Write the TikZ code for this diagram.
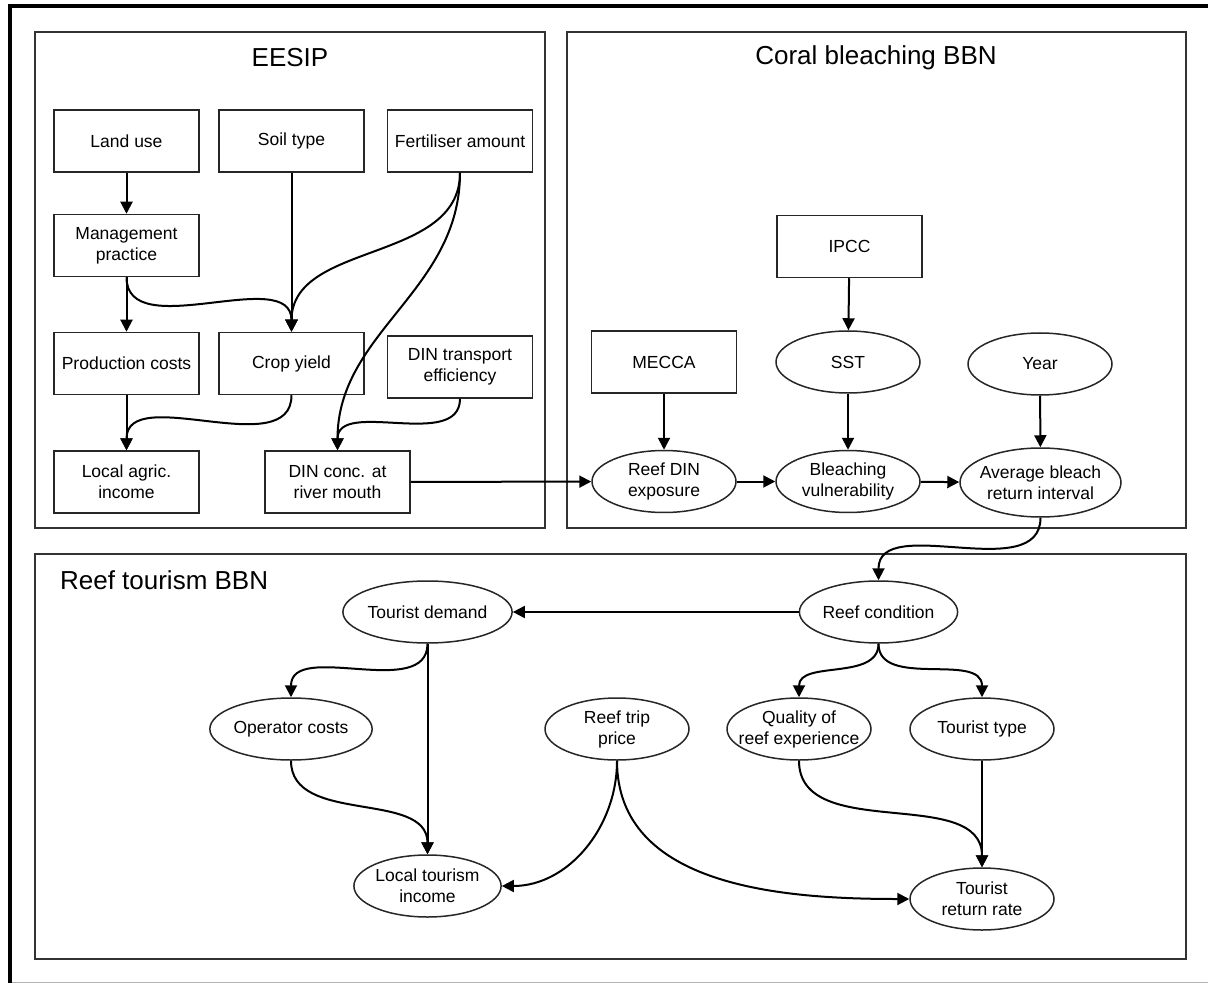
\documentclass[tikz,border=0pt]{standalone}
\usepackage{fontspec}
\setmainfont{Liberation Sans}
\usetikzlibrary{arrows.meta,shapes.geometric}

\begin{document}
\begin{tikzpicture}[x=0.5pt,y=-0.5pt,
  box/.style={draw=black!85,line width=0.75pt,minimum width=72.5pt,minimum height=31pt,inner sep=1pt,align=center,font=\fontsize{8.75}{10.5}\selectfont},
  oval/.style={ellipse,draw=black!85,line width=0.75pt,minimum width=72pt,minimum height=31pt,inner sep=0pt,align=center,font=\fontsize{8.75}{10.5}\selectfont},
  link/.style={line width=1pt,-{Triangle[length=6pt,width=6pt]}},
  group/.style={draw=black!80,line width=1pt},
  title/.style={font=\fontsize{13}{15}\selectfont}]
\useasboundingbox (0,0) rectangle (1208,983);
% outer frame
\draw[line width=2pt] (10,983) -- (10,6.3) -- (1208,6.3);
\draw[gray!60,line width=0.5pt] (12,982) -- (1208,982);
% model boxes
\draw[group] (35,32) rectangle (545,528);
\draw[group] (567,32) rectangle (1186,528);
\draw[group] (35,554) rectangle (1186,959);
\node[title] (teesip) at (290,58) {EESIP};
\node[title] (tcoral) at (876,58) {Coral bleaching BBN};
\node[title,anchor=west] (ttour) at (53,580) {Reef tourism BBN};
% EESIP nodes
\node[box] (landuse) at (126.5,141) {Land use};
\node[box] (soil) at (291.5,141) {Soil type};
\node[box] (fert) at (460,141) {Fertiliser amount};
\node[box] (mgmt) at (126.5,245.5) {Management\\practice};
\node[box] (prodcost) at (126.5,363.5) {Production costs};
\node[box] (crop) at (291.5,363.5) {Crop yield};
\node[box] (dintrans) at (460,367) {DIN transport\\efficiency};
\node[box] (agric) at (126.5,482) {Local agric.\\income};
\node[box] (dinconc) at (337.5,482) {DIN conc. at\\river mouth};
% coral bleaching nodes
\node[box] (ipcc) at (849.5,246.5) {IPCC};
\node[box] (mecca) at (664,362) {MECCA};
\node[oval] (sst) at (848,362) {SST};
\node[oval] (year) at (1040,364) {Year};
\node[oval] (reefdin) at (664,481.5) {Reef DIN\\exposure};
\node[oval] (bleach) at (848,481.5) {Bleaching\\vulnerability};
\node[oval,minimum width=80.5pt,minimum height=34.5pt] (avgret) at (1040.5,482.5) {\makebox[0pt]{Average bleach}\\\makebox[0pt]{return interval}};
% reef tourism nodes
\node[oval] (reefcond) at (878.5,612) {Reef condition};
\node[oval] (demand) at (427.5,612) {Tourist demand};
\node[oval] (opcost) at (291,729) {Operator costs};
\node[oval] (price) at (617,729) {Reef trip\\price};
\node[oval] (quality) at (799,729) {Quality of\\\makebox[0pt]{reef experience}};
\node[oval] (ttype) at (982,729) {Tourist type};
\node[oval] (tincome) at (427.5,886) {Local tourism\\income};
\node[oval] (treturn) at (982,899) {Tourist\\return rate};
% EESIP links
\draw[link] (landuse) -- (mgmt);
\draw[link] (mgmt) -- (prodcost);
\draw[link] (prodcost) -- (agric);
\draw[link] (soil) -- (crop);
\draw[link] (mgmt.south) to[out=-90,in=90] (crop.north);
\draw[link] (fert.south) to[out=-90,in=90] (crop.north);
\draw[link] (fert.south) to[out=-90,in=90] (dinconc.north);
\draw[link] (crop.south) to[out=-90,in=90] (agric.north);
\draw[link] (dintrans.south) to[out=-90,in=90] (dinconc.north);
\draw[link] (dinconc) -- (reefdin);
% coral bleaching links
\draw[link] (ipcc) -- (sst);
\draw[link] (mecca) -- (reefdin);
\draw[link] (sst) -- (bleach);
\draw[link] (year) -- (avgret);
\draw[link] (reefdin) -- (bleach);
\draw[link] (bleach) -- (avgret);
\draw[link] (avgret.south) to[out=-90,in=90] (reefcond.north);
% reef tourism links
\draw[link] (reefcond) -- (demand);
\draw[link] (demand.south) to[out=-90,in=90] (opcost.north);
\draw[link] (demand) -- (tincome);
\draw[link] (opcost.south) to[out=-90,in=90] (tincome.north);
\draw[link] (reefcond.south) to[out=-90,in=90] (quality.north);
\draw[link] (reefcond.south) to[out=-90,in=90] (ttype.north);
\draw[link] (price.south) to[out=-90,in=0] (tincome.east);
\draw[link] (price.south) to[out=-90,in=180] (treturn.west);
\draw[link] (quality.south) to[out=-90,in=90] (treturn.north);
\draw[link] (ttype) -- (treturn);
\end{tikzpicture}
\end{document}
